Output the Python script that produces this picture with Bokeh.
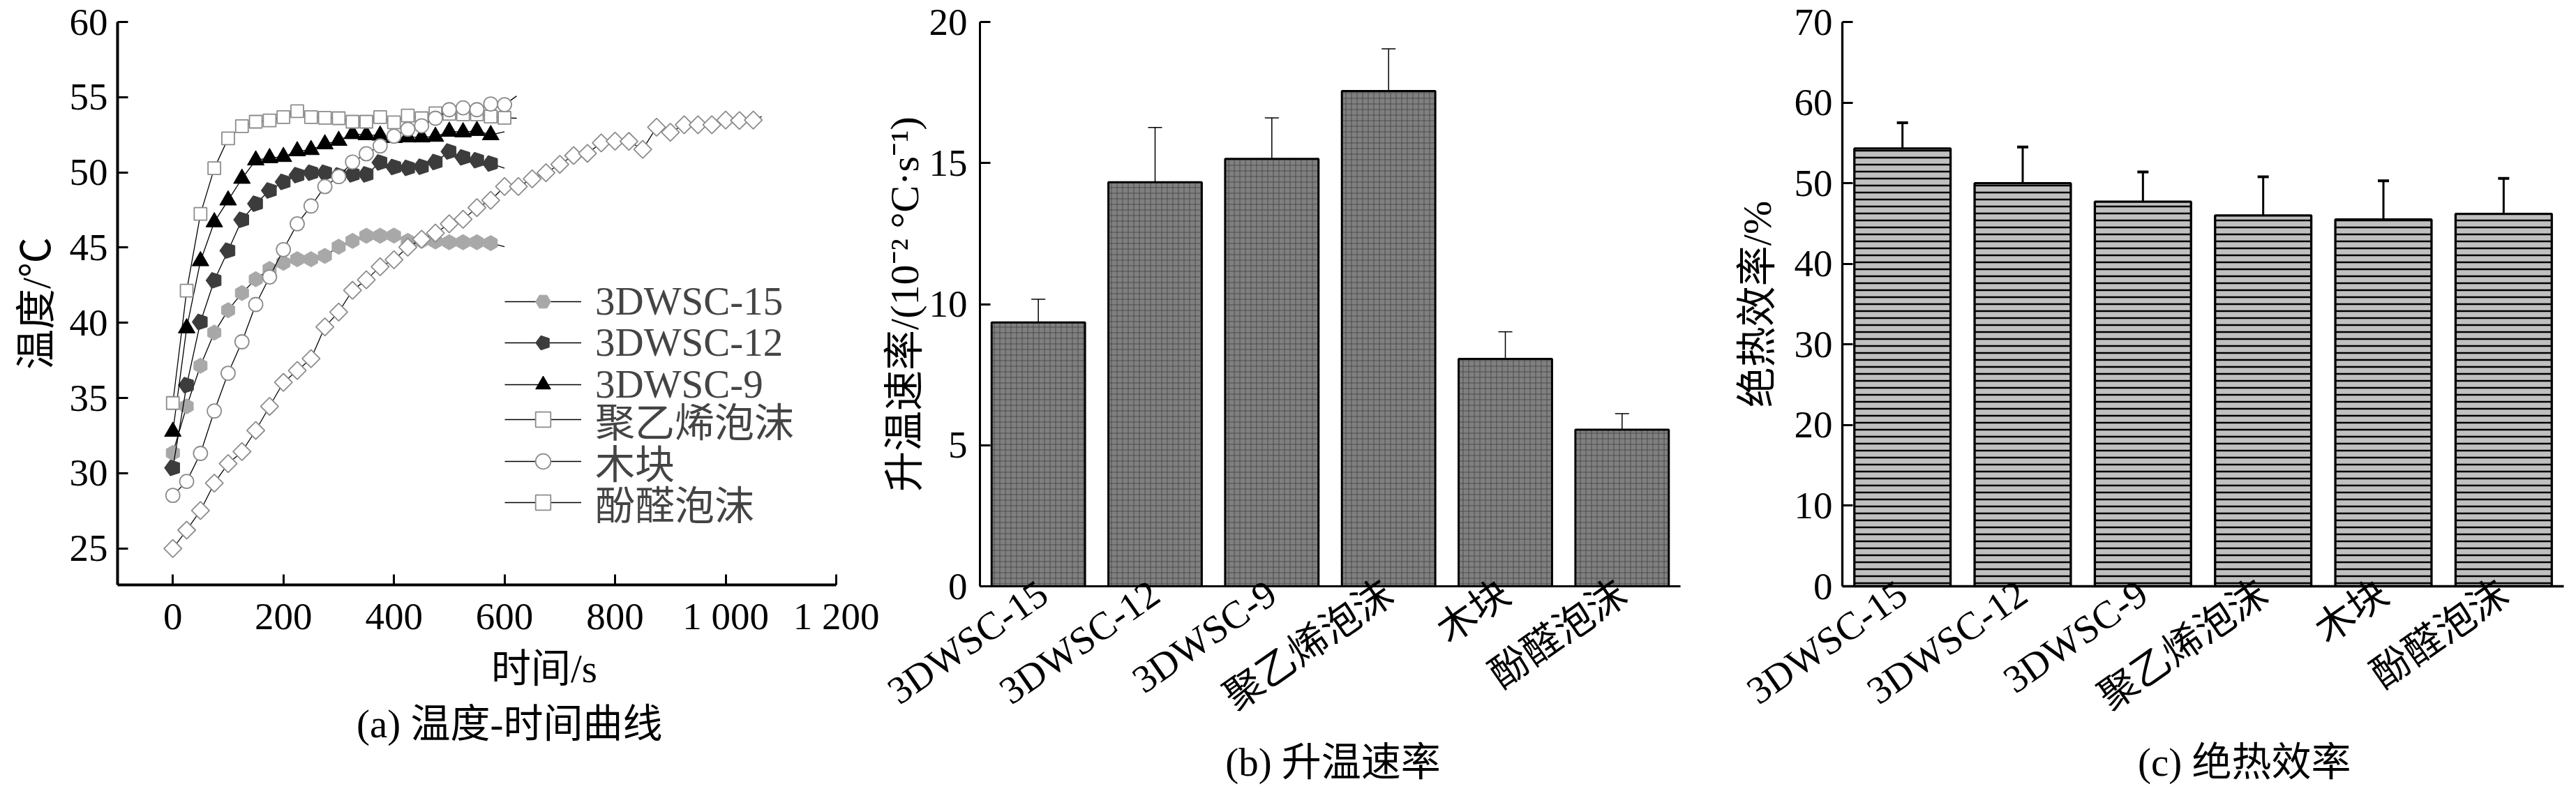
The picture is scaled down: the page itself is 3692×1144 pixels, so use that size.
import math
from bokeh.plotting import figure
from bokeh.layouts import row, column
from bokeh.models import (Range1d, FactorRange, FixedTicker, Legend, LegendItem,
                          Label, Whisker, TeeHead, ColumnDataSource)
from bokeh.embed import file_html
from bokeh.resources import INLINE

FONT = "Liberation Serif, Noto Sans CJK SC"
NUM_FONT = "Liberation Serif"

# ---------------- data: (a) temperature-time curves ----------------
t_short = [0, 25, 50, 75, 100, 125, 150, 175, 200, 225, 250, 275, 300, 325, 350,
           375, 400, 425, 450, 475, 500, 525, 550, 575]
t_mid = t_short + [600]
t_long = t_mid + [625, 650, 675, 700, 725, 750, 775, 800, 825, 850, 875, 900,
                  925, 950, 975, 1000, 1025, 1050]

wsc15 = [31.35, 34.45, 37.15, 39.35, 40.84, 41.98, 42.90, 43.58, 43.99, 44.23, 44.23,
         44.45, 45.06, 45.45, 45.79, 45.79, 45.80, 45.45, 45.45, 45.41, 45.36, 45.36,
         45.36, 45.30]
wsc15_end = (600, 45.06)
wsc12 = [30.36, 35.86, 40.06, 42.82, 44.80, 46.85, 47.92, 48.80, 49.37, 49.82, 49.98,
         49.98, 49.80, 49.87, 49.87, 50.66, 50.36, 50.30, 50.38, 50.69, 51.39, 51.00,
         50.81, 50.59]
wsc12_end = (600, 50.28)
wsc9 = [32.77, 39.65, 44.11, 46.70, 48.15, 49.59, 50.81, 50.96, 51.04, 51.42, 51.50,
        51.88, 52.11, 52.56, 52.49, 52.46, 52.30, 52.34, 52.34, 52.38, 52.72, 52.68,
        52.77, 52.49]
wsc9_end = (600, 52.70)
pe_foam = [34.67, 42.14, 47.24, 50.28, 52.26, 53.07, 53.37, 53.46, 53.68, 54.07, 53.68,
           53.63, 53.60, 53.37, 53.37, 53.68, 53.33, 53.78, 53.60, 53.93, 53.90, 53.86,
           53.86, 53.71, 53.63]
pe_end = (622, 53.60)
wood = [28.53, 29.46, 31.32, 34.14, 36.65, 38.74, 41.22, 43.05, 44.87, 46.58, 47.77,
        49.06, 49.72, 50.69, 51.24, 51.76, 52.41, 52.87, 53.10, 53.60, 54.17, 54.29,
        54.17, 54.55, 54.50]
wood_end = (622, 55.08)
phenolic = [25.00, 26.22, 27.52, 29.34, 30.64, 31.44, 32.85, 34.45, 36.04, 36.83, 37.62,
            39.73, 40.72, 42.16, 42.86, 43.73, 44.19, 45.03, 45.56, 45.97, 46.58, 46.88,
            47.66, 48.15, 49.06, 49.06, 49.57, 49.98, 50.54, 51.12, 51.27, 51.96, 52.08,
            52.06, 51.53, 53.00, 52.67, 53.17, 53.17, 53.17, 53.48, 53.45, 53.48]
phenolic_end = (1065, 53.71)

series_names = ["3DWSC-15", "3DWSC-12", "3DWSC-9", "聚乙烯泡沫", "木块", "酚醛泡沫"]
x_ticks_a = [0, 200, 400, 600, 800, 1000, 1200]
x_tick_labels_a = ["0", "200", "400", "600", "800", "1 000", "1 200"]
y_ticks_a = [25, 30, 35, 40, 45, 50, 55, 60]

# ---------------- data: (b) heating rate, (c) insulation efficiency ----------------
cats = ["3DWSC-15", "3DWSC-12", "3DWSC-9", "聚乙烯泡沫", "木块", "酚醛泡沫"]
rate = [9.35, 14.32, 15.15, 17.55, 8.06, 5.55]
rate_hi = [10.17, 16.26, 16.60, 19.05, 9.02, 6.12]
rate_lo = [8.50, 12.43, 13.68, 16.04, 7.05, 4.96]
eff = [54.3, 50.0, 47.7, 46.0, 45.5, 46.2]
eff_hi = [57.5, 54.5, 51.4, 50.8, 50.3, 50.6]
eff_lo = [51.2, 45.7, 44.1, 41.1, 40.6, 42.0]
y_ticks_b = [0, 5, 10, 15, 20]
y_ticks_c = [0, 10, 20, 30, 40, 50, 60, 70]


def style_axis(ax, lw, label_font=NUM_FONT, label_size="55px"):
    ax.axis_line_width = lw
    ax.axis_line_color = "black"
    ax.major_tick_in = 15
    ax.major_tick_out = 0
    ax.major_tick_line_width = 3
    ax.major_tick_line_color = "black"
    ax.minor_tick_line_color = None
    ax.major_label_text_font = label_font
    ax.major_label_text_font_size = label_size
    ax.major_label_text_color = "black"
    ax.axis_label_text_font = FONT
    ax.axis_label_text_font_style = "normal"
    ax.axis_label_text_font_size = "58px"
    ax.axis_label_text_color = "black"


def base_fig(width, height, x_range, y_range, bl, br, bt, bb):
    p = figure(width=width, height=height, x_range=x_range, y_range=y_range,
               output_backend="svg", toolbar_location=None,
               min_border_left=bl, min_border_right=br, min_border_top=bt,
               min_border_bottom=bb)
    p.outline_line_color = None
    p.xgrid.grid_line_color = None
    p.ygrid.grid_line_color = None
    p.background_fill_color = "white"
    return p


def caption_fig(width, height, texts):
    f = figure(width=width, height=height, x_range=Range1d(0, width),
               y_range=Range1d(0, height), output_backend="svg", toolbar_location=None,
               x_axis_type=None, y_axis_type=None, min_border=0)
    f.outline_line_color = None
    f.xgrid.grid_line_color = None
    f.ygrid.grid_line_color = None
    for text, x, y, size in texts:
        f.add_layout(Label(x=x, y=y, text=text, text_align="left", text_baseline="middle",
                           text_font=FONT, text_font_size=size, text_color="black"))
    return f


# ================= panel (a) =================
pa = base_fig(1260, 916, Range1d(-100, 1200), Range1d(22.58, 60), 168, 62, 31, 76)
style_axis(pa.xaxis[0], 4)
style_axis(pa.yaxis[0], 4)
pa.xaxis.ticker = FixedTicker(ticks=x_ticks_a)
pa.xaxis.major_label_overrides = {t: s for t, s in zip(x_ticks_a, x_tick_labels_a)}
pa.xaxis.major_label_standoff = 14
pa.yaxis.ticker = FixedTicker(ticks=y_ticks_a)
pa.yaxis.major_label_standoff = 14
pa.yaxis.axis_label = "温度/℃"
pa.yaxis.axis_label_standoff = 12

GRAY_EDGE = "#8c8c8c"
specs = [
    (t_short, wsc15, wsc15_end, dict(marker="hex", size=22, angle=math.pi / 6,
                                     fill_color="#a8a8a8", line_color="#a8a8a8")),
    (t_short, wsc12, wsc12_end, None),
    (t_short, wsc9, wsc9_end, dict(marker="triangle", size=24, fill_color="black",
                                   line_color="black")),
    (t_mid, pe_foam, pe_end, dict(marker="square", size=18, fill_color="white",
                                  line_color=GRAY_EDGE, line_width=1.8)),
    (t_mid, wood, wood_end, dict(marker="circle", size=20, fill_color="white",
                                 line_color=GRAY_EDGE, line_width=1.8)),
    (t_long, phenolic, phenolic_end, dict(marker="square", size=18, angle=math.pi / 4,
                                          fill_color="white", line_color=GRAY_EDGE,
                                          line_width=1.8)),
]
FRAME_H_A = 809          # frame height of panel (a) in px
ROW0_FROM_TOP = 398      # centre of first legend row below frame top
ROW_PITCH = 59.4
ITEM_H = 74              # rendered height of one legend item
for i, (name, (tx, vy, end, mk)) in enumerate(zip(series_names, specs)):
    lr = pa.line(tx + [end[0]], vy + [end[1]], line_color="black", line_width=1.3)
    if mk is None:
        mr = pa.ngon(x=tx, y=vy, radius=12, radius_units="screen", n=5,
                     angle=math.pi / 2, fill_color="#3c3c3c", line_color="#3c3c3c")
    else:
        mr = pa.scatter(tx, vy, **mk)
    y_off = int(round(FRAME_H_A - (ROW0_FROM_TOP + i * ROW_PITCH) - ITEM_H / 2))
    leg = Legend(items=[LegendItem(label=name, renderers=[lr, mr])],
                 location=(555, y_off), glyph_width=110, glyph_height=54,
                 label_standoff=20, spacing=0, padding=0, margin=0,
                 border_line_color=None, background_fill_alpha=0,
                 label_text_font=FONT, label_text_font_size="57px", label_height=40,
                 label_text_line_height=1.0)
    pa.add_layout(leg)
ca = caption_fig(1260, 212, [("时间/s", 655, 170, "57px"),
                             ("(a) 温度-时间曲线", 419, 91, "57px")])

# ================= panel (b) =================
pb = base_fig(1222, 1058, FactorRange(*cats), Range1d(0, 20), 135, 74, 31, 214)
style_axis(pb.xaxis[0], 3, FONT, "56px")
style_axis(pb.yaxis[0], 3)
pb.yaxis.ticker = FixedTicker(ticks=y_ticks_b)
pb.yaxis.major_label_standoff = 18
pb.yaxis.axis_label = "升温速率/(10⁻² °C·s⁻¹)"
pb.yaxis.axis_label_standoff = 0
pb.xaxis.major_tick_line_color = None
pb.xaxis.major_label_orientation = 0.61
pb.xaxis.major_label_standoff = 4
src_b = ColumnDataSource(dict(cat=cats, top=rate, hi=rate_hi, lo=rate_lo))
pb.vbar(x="cat", top="top", width=0.8, source=src_b, fill_color="#808080",
        line_color="black", line_width=3, hatch_pattern="+", hatch_color="#3c3c3c",
        hatch_scale=8, hatch_weight=1, hatch_alpha=0.75)
pb.add_layout(Whisker(source=src_b, base="cat", upper="hi", lower="lo",
                      line_width=1.5, line_color="black",
                      upper_head=TeeHead(size=20, line_width=1.5, line_color="black"),
                      lower_head=TeeHead(size=20, line_width=1.5, line_color="black")))
cb = caption_fig(1222, 70, [("(b) 升温速率", 428, 36, "57px")])

# ================= panel (c) =================
pc = base_fig(1194, 1058, FactorRange(*cats), Range1d(0, 70), 158, 2, 31, 215)
style_axis(pc.xaxis[0], 3.3, FONT, "56px")
style_axis(pc.yaxis[0], 3.3)
pc.yaxis.ticker = FixedTicker(ticks=y_ticks_c)
pc.yaxis.major_label_standoff = 14
pc.yaxis.axis_label = "绝热效率/%"
pc.yaxis.axis_label_standoff = 18
pc.xaxis.major_tick_line_color = None
pc.xaxis.major_label_orientation = 0.61
pc.xaxis.major_label_standoff = 4
src_c = ColumnDataSource(dict(cat=cats, top=eff, hi=eff_hi, lo=eff_lo))
pc.vbar(x="cat", top="top", width=0.8, source=src_c, fill_color="#c0c0c0",
        line_color="black", line_width=3.3, hatch_pattern="-", hatch_color="black",
        hatch_scale=10, hatch_weight=2.5)
pc.add_layout(Whisker(source=src_c, base="cat", upper="hi", lower="lo",
                      line_width=3, line_color="black",
                      upper_head=TeeHead(size=16, line_width=4, line_color="black"),
                      lower_head=TeeHead(size=16, line_width=4, line_color="black")))
cc = caption_fig(1194, 70, [("(c) 绝热效率", 489, 36, "57px")])

layout = row(column(pa, ca), column(pb, cb), column(pc, cc))
open("out.html", "w").write(file_html(layout, INLINE))
